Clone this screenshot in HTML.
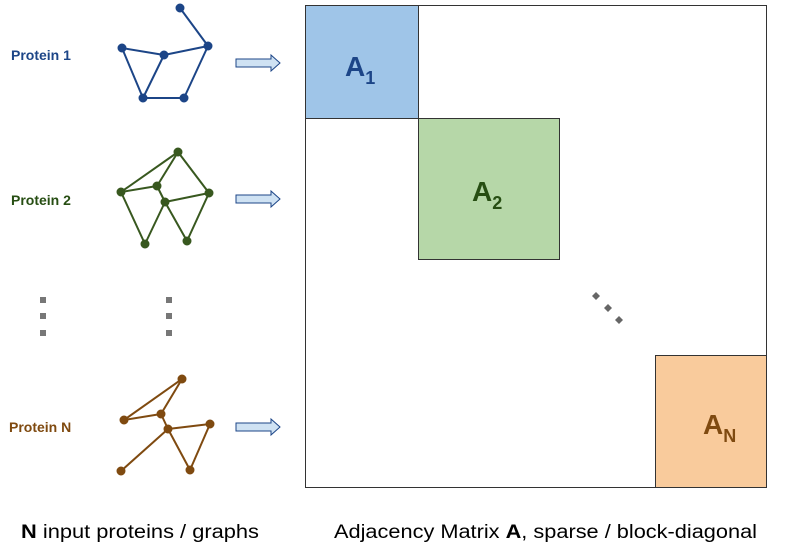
<!DOCTYPE html>
<html><head><meta charset="utf-8"><style>html,body{margin:0;padding:0;background:#fff}svg{display:block}</style></head>
<body>
<svg width="789" height="544" viewBox="0 0 789 544" xmlns="http://www.w3.org/2000/svg" font-family="Liberation Sans, Arial, sans-serif">
<rect width="789" height="544" fill="#fff"/>
<!-- labels -->
<text x="11" y="60" font-size="14" font-weight="bold" fill="#1c4587">Protein 1</text>
<text x="11" y="205" font-size="14" font-weight="bold" fill="#274e13">Protein 2</text>
<text x="9" y="432" font-size="14" font-weight="bold" fill="#7f4a10">Protein N</text>
<!-- graph 1 -->
<g stroke="#1c4587" stroke-width="2" fill="#1c4587">
<line x1="180" y1="8" x2="208" y2="46"/><line x1="122" y1="48" x2="164" y2="55"/><line x1="164" y1="55" x2="208" y2="46"/>
<line x1="122" y1="48" x2="143" y2="98"/><line x1="164" y1="55" x2="143" y2="98"/><line x1="143" y1="98" x2="184" y2="98"/><line x1="184" y1="98" x2="208" y2="46"/>
<circle cx="180" cy="8" r="3.5"/><circle cx="208" cy="46" r="3.5"/><circle cx="122" cy="48" r="3.5"/><circle cx="164" cy="55" r="3.5"/><circle cx="143" cy="98" r="3.5"/><circle cx="184" cy="98" r="3.5"/>
</g>
<!-- graph 2 -->
<g stroke="#38581f" stroke-width="2" fill="#38581f">
<line x1="178" y1="152" x2="121" y2="192"/><line x1="178" y1="152" x2="157" y2="186"/><line x1="178" y1="152" x2="209" y2="193"/>
<line x1="121" y1="192" x2="157" y2="186"/><line x1="157" y1="186" x2="165" y2="202"/><line x1="165" y1="202" x2="209" y2="193"/>
<line x1="121" y1="192" x2="145" y2="244"/><line x1="165" y1="202" x2="145" y2="244"/><line x1="165" y1="202" x2="187" y2="241"/><line x1="187" y1="241" x2="209" y2="193"/>
<circle cx="178" cy="152" r="3.5"/><circle cx="121" cy="192" r="3.5"/><circle cx="157" cy="186" r="3.5"/><circle cx="165" cy="202" r="3.5"/><circle cx="209" cy="193" r="3.5"/><circle cx="145" cy="244" r="3.5"/><circle cx="187" cy="241" r="3.5"/>
</g>
<!-- graph N -->
<g stroke="#7f4a10" stroke-width="2" fill="#7f4a10">
<line x1="182" y1="379" x2="124" y2="420"/><line x1="182" y1="379" x2="161" y2="414"/><line x1="124" y1="420" x2="161" y2="414"/>
<line x1="161" y1="414" x2="168" y2="429"/><line x1="168" y1="429" x2="210" y2="424"/><line x1="168" y1="429" x2="121" y2="471"/>
<line x1="168" y1="429" x2="190" y2="470"/><line x1="190" y1="470" x2="210" y2="424"/>
<circle cx="182" cy="379" r="3.5"/><circle cx="124" cy="420" r="3.5"/><circle cx="161" cy="414" r="3.5"/><circle cx="168" cy="429" r="3.5"/><circle cx="210" cy="424" r="3.5"/><circle cx="121" cy="471" r="3.5"/><circle cx="190" cy="470" r="3.5"/>
</g>
<!-- vertical dots -->
<g fill="#777">
<rect x="40" y="297" width="6" height="6"/><rect x="40" y="313" width="6" height="6"/><rect x="40" y="330" width="6" height="6"/>
<rect x="166" y="297" width="6" height="6"/><rect x="166" y="313" width="6" height="6"/><rect x="166" y="330" width="6" height="6"/>
</g>
<!-- arrows -->
<g fill="#cfe2f3" stroke="#1c4587" stroke-width="1">
<path d="M236 59 H271 V55 L280 63 L271 71 V67 H236 Z"/>
<path d="M236 195 H271 V191 L280 199 L271 207 V203 H236 Z"/>
<path d="M236 423 H271 V419 L280 427 L271 435 V431 H236 Z"/>
</g>
<!-- matrix -->
<rect x="305.5" y="5.5" width="461" height="482" fill="#fff" stroke="#333" stroke-width="1"/>
<rect x="305.5" y="5.5" width="113" height="113" fill="#9fc5e8" stroke="#333" stroke-width="1"/>
<rect x="418.5" y="118.5" width="141" height="141" fill="#b6d7a8" stroke="#333" stroke-width="1"/>
<rect x="655.5" y="355.5" width="111" height="132" fill="#f9cb9c" stroke="#333" stroke-width="1"/>
<text x="345" y="76" font-size="28" font-weight="bold" fill="#1c4587">A<tspan font-size="18" dy="8">1</tspan></text>
<text x="472" y="201" font-size="28" font-weight="bold" fill="#274e13">A<tspan font-size="18" dy="8">2</tspan></text>
<text x="703" y="434" font-size="28" font-weight="bold" fill="#7f4a10">A<tspan font-size="18" dy="8">N</tspan></text>
<g fill="#666">
<path d="M596 292 L600 296 L596 300 L592 296 Z"/><path d="M608 304 L612 308 L608 312 L604 308 Z"/><path d="M619 316 L623 320 L619 324 L615 320 Z"/>
</g>
<!-- captions -->
<text x="21" y="538" font-size="19" fill="#000" textLength="238" lengthAdjust="spacingAndGlyphs"><tspan font-weight="bold">N</tspan> input proteins / graphs</text>
<text x="334" y="538" font-size="19" fill="#000" textLength="423" lengthAdjust="spacingAndGlyphs">Adjacency Matrix <tspan font-weight="bold">A</tspan>, sparse / block-diagonal</text>
</svg>
</body></html>
